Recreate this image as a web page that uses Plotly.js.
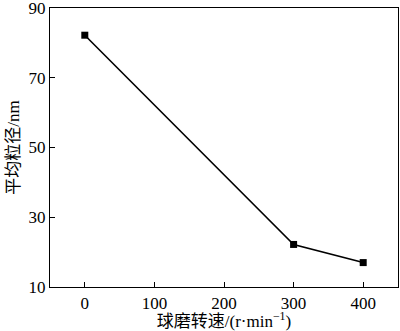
<!DOCTYPE html>
<html><head><meta charset="utf-8">
<script src="https://cdn.plot.ly/plotly-3.0.1.min.js"></script>
<style>html,body{margin:0;padding:0;background:#fff}</style>
</head><body><div id="chart" style="width:400px;height:331px"></div>
<script>
const speeds = [0, 300, 400];
const sizes = [82.2, 22.2, 17.0];
const xTicks = [0, 100, 200, 300, 400];
const yTicks = [10, 30, 50, 70, 90];
const serif = '"Liberation Serif", "Times New Roman", "Noto Sans CJK SC", serif';
const cjk = '"Liberation Serif", "Noto Sans CJK SC", serif';
Plotly.newPlot('chart', [{
  x: speeds, y: sizes, type: 'scatter', mode: 'lines+markers',
  line: {color: '#000', width: 1.6},
  marker: {symbol: 'square', size: 7, color: '#000'}
}], {
  width: 400, height: 331,
  margin: {l: 50, r: 2, t: 8, b: 44},
  paper_bgcolor: '#fff', plot_bgcolor: '#fff',
  showlegend: false,
  xaxis: {range: [-50, 450], tickvals: xTicks, ticks: 'inside', ticklen: 5, tickcolor: '#000',
    showline: true, mirror: true, linecolor: '#000', linewidth: 1.2, showgrid: false, zeroline: false,
    ticklabeloverflow: 'allow',
    tickfont: {family: serif, size: 17, color: '#000'},
    title: {text: '球磨转速/(r·min<sup>−1</sup>)', font: {family: cjk, size: 17, color: '#000'}, standoff: 4}},
  yaxis: {range: [10, 90], tickvals: yTicks, ticks: 'inside', ticklen: 5, tickcolor: '#000',
    showline: true, mirror: true, linecolor: '#000', linewidth: 1.2, showgrid: false, zeroline: false,
    ticklabeloverflow: 'allow',
    tickfont: {family: serif, size: 17, color: '#000'},
    title: {text: '平均粒径/nm', font: {family: cjk, size: 17, color: '#000'}, standoff: 4}}
}, {displayModeBar: false, staticPlot: true});
</script></body></html>
